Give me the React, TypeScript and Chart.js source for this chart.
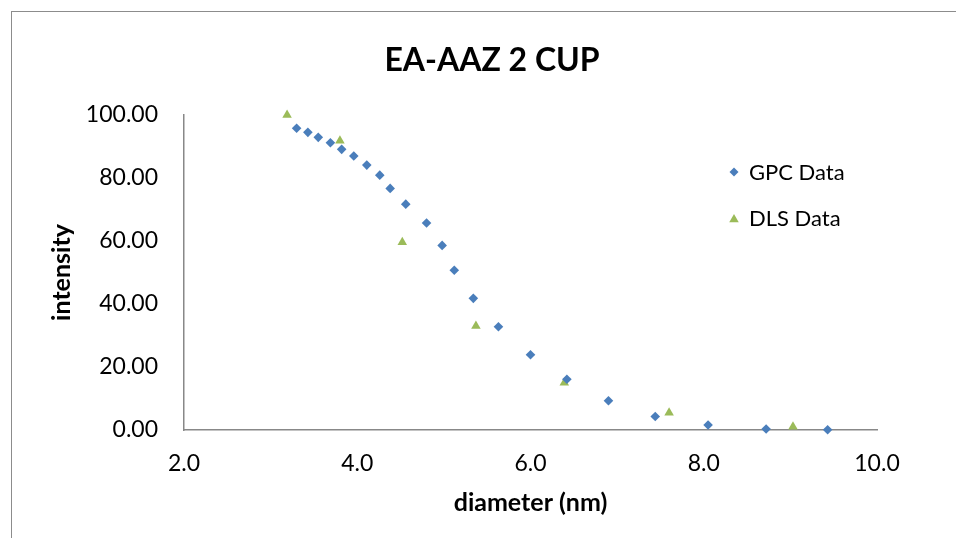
import React, { useEffect, useRef } from 'react';
import { Chart, registerables } from 'chart.js';

Chart.register(...registerables);

const chartTitle = 'EA-AAZ 2 CUP';
const xAxisTitle = 'diameter (nm)';
const yAxisTitle = 'intensity';
const seriesNames = ['GPC Data', 'DLS Data'];

const gpcX = [3.3, 3.43, 3.55, 3.69, 3.82, 3.96, 4.11, 4.26, 4.38, 4.56, 4.8, 4.98, 5.12, 5.34, 5.63, 6.0, 6.42, 6.9, 7.44, 8.05, 8.72, 9.43];
const gpcY = [95.8, 94.5, 92.9, 91.2, 89.1, 87.0, 84.1, 80.9, 76.7, 71.7, 65.7, 58.6, 50.7, 41.8, 32.8, 23.9, 16.1, 9.3, 4.3, 1.6, 0.3, 0.1];

const dlsX = [3.19, 3.8, 4.52, 5.37, 6.39, 7.6, 9.03];
const dlsY = [100, 91.8, 59.6, 33.0, 15.0, 5.5, 1.0];

const xTickValues = [2, 4, 6, 8, 10];
const yTickValues = [0, 20, 40, 60, 80, 100];

const FONT = 'Lato';
const BLUE = '#4A7EBB';
const GREEN = '#9BBB59';
const AXIS = '#888888';

function drawMarker(ctx: CanvasRenderingContext2D, style: string, x: number, y: number, r: number, color: string) {
  ctx.save();
  ctx.fillStyle = color;
  ctx.beginPath();
  if (style === 'rectRot') {
    ctx.moveTo(x - r, y);
    ctx.lineTo(x, y - r);
    ctx.lineTo(x + r, y);
    ctx.lineTo(x, y + r);
  } else {
    const h = r * 1.5;
    const w = r * Math.sqrt(3);
    ctx.moveTo(x, y - h / 2);
    ctx.lineTo(x + w / 2, y + h / 2);
    ctx.lineTo(x - w / 2, y + h / 2);
  }
  ctx.closePath();
  ctx.fill();
  ctx.restore();
}

export default function App() {
  const ref = useRef<HTMLCanvasElement>(null);

  useEffect(() => {
    const canvas = ref.current;
    if (!canvas) return;

    const titlePlugin = {
      id: 'excelTitle',
      afterDraw(chart: any) {
        const ctx = chart.ctx as CanvasRenderingContext2D;
        ctx.save();
        ctx.font = `bold 32px ${FONT}`;
        ctx.fillStyle = '#000';
        ctx.textAlign = 'center';
        ctx.textBaseline = 'alphabetic';
        ctx.fillText(chartTitle, 492, 71);
        ctx.restore();
      },
    };

    const legendPlugin = {
      id: 'excelLegend',
      afterDraw(chart: any) {
        const ctx = chart.ctx as CanvasRenderingContext2D;
        const items = [
          { name: seriesNames[0], style: 'rectRot', color: BLUE, r: 4.5 },
          { name: seriesNames[1], style: 'triangle', color: GREEN, r: 5.5 },
        ];
        items.forEach((it, i) => {
          const cy = 172 + i * 46;
          drawMarker(ctx, it.style, 734, cy, it.r, it.color);
          ctx.save();
          ctx.font = `22px ${FONT}`;
          ctx.fillStyle = '#000';
          ctx.textAlign = 'left';
          ctx.textBaseline = 'alphabetic';
          ctx.fillText(it.name, 749, cy + 7.5);
          ctx.restore();
        });
      },
    };

    const chart = new Chart(canvas, {
      type: 'scatter',
      data: {
        datasets: [
          {
            label: seriesNames[0],
            data: gpcX.map((x, i) => ({ x, y: gpcY[i] })),
            pointStyle: 'rectRot',
            pointRadius: 4.8,
            pointBorderWidth: 0,
            backgroundColor: BLUE,
            borderColor: BLUE,
            clip: false,
          },
          {
            label: seriesNames[1],
            data: dlsX.map((x, i) => ({ x, y: dlsY[i] })),
            pointStyle: 'triangle',
            pointRadius: 5.5,
            pointBorderWidth: 0,
            backgroundColor: GREEN,
            borderColor: GREEN,
            clip: false,
          },
        ],
      },
      options: {
        responsive: false,
        animation: false,
        devicePixelRatio: 1,
        layout: { padding: { left: 0, right: 79, top: 115, bottom: 0 } },
        plugins: {
          legend: { display: false },
          title: { display: false },
          tooltip: { enabled: false },
        },
        scales: {
          x: {
            type: 'linear',
            position: 'bottom',
            min: xTickValues[0],
            max: xTickValues[xTickValues.length - 1],
            afterBuildTicks: (s: any) => {
              s.ticks = xTickValues.map((v) => ({ value: v }));
            },
            afterFit: (s: any) => {
              s.height = 108;
            },
            grid: { display: false, drawTicks: false },
            border: { display: true, color: AXIS, width: 1.5 },
            ticks: {
              padding: 20,
              color: '#000',
              font: { family: FONT, size: 23 },
              callback: (v: any) => Number(v).toFixed(1),
              maxRotation: 0,
            },
            title: {
              display: true,
              text: xAxisTitle,
              color: '#000',
              font: { family: FONT, size: 25, weight: 'bold' },
              padding: { top: 0, bottom: 20 },
            },
          },
          y: {
            type: 'linear',
            position: 'left',
            min: yTickValues[0],
            max: yTickValues[yTickValues.length - 1],
            afterBuildTicks: (s: any) => {
              s.ticks = yTickValues.map((v) => ({ value: v }));
            },
            afterFit: (s: any) => {
              s.width = 184;
            },
            grid: { display: false, drawTicks: false },
            border: { display: true, color: AXIS, width: 1.5 },
            ticks: {
              padding: 26,
              color: '#000',
              font: { family: FONT, size: 23 },
              callback: (v: any) => Number(v).toFixed(2),
            },
            title: {
              display: true,
              text: yAxisTitle,
              color: '#000',
              font: { family: FONT, size: 25, weight: 'bold' },
              padding: { top: 47, bottom: 0 },
            },
          },
        },
      },
      plugins: [titlePlugin, legendPlugin],
    } as any);

    return () => {
      chart.destroy();
    };
  }, []);

  return (
    <div
      style={{
        position: 'fixed',
        left: 0,
        top: 0,
        width: 956,
        height: 538,
        overflow: 'hidden',
        background: '#fff',
      }}
    >
      <div
        style={{
          position: 'absolute',
          left: 11,
          top: 11,
          width: 1200,
          height: 1200,
          borderLeft: '1.5px solid #8c8c8c',
          borderTop: '1.5px solid #8c8c8c',
        }}
      />
      <canvas
        ref={ref}
        width={956}
        height={538}
        style={{ position: 'absolute', left: 0, top: 0, display: 'block' }}
      />
    </div>
  );
}
